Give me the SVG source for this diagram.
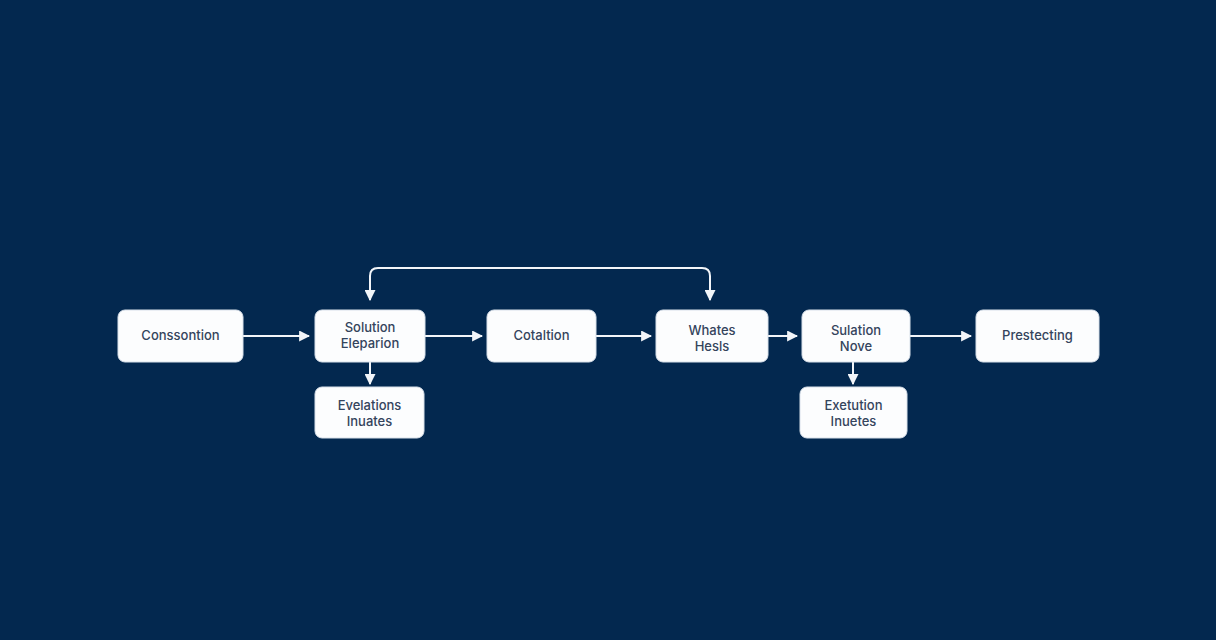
<svg xmlns="http://www.w3.org/2000/svg" width="1216" height="640" viewBox="0 0 1216 640">
<defs>
<style>
.node rect{fill:#fcfdfe;stroke:#d8e0ea;stroke-width:1}
.node text{font-family:"Inter","Liberation Sans",sans-serif;font-size:13px;fill:#34445c;text-anchor:middle;font-weight:500}
.conn path{fill:none;stroke:#f2f5f9;stroke-width:2}
</style>
<marker id="ah" viewBox="0 0 10 10" refX="9" refY="5" markerWidth="5.5" markerHeight="5.5" orient="auto-start-reverse" markerUnits="strokeWidth">
<path d="M0,0 L10,5 L0,10 z" fill="#f2f5f9"/>
</marker>
</defs>
<rect width="1216" height="640" fill="#03284f"/>
<g id="connectors" class="conn">
<path d="M243,336 H309" marker-end="url(#ah)"/>
<path d="M425,336 H482" marker-end="url(#ah)"/>
<path d="M596,336 H651" marker-end="url(#ah)"/>
<path d="M768,336 H797" marker-end="url(#ah)"/>
<path d="M910,336 H971" marker-end="url(#ah)"/>
<path d="M370,362 V384" marker-end="url(#ah)"/>
<path d="M853,362 V384" marker-end="url(#ah)"/>
<path d="M370,300 V276 Q370,268 378,268 H702 Q710,268 710,276 V300" marker-start="url(#ah)" marker-end="url(#ah)"/>
</g>
<g id="n1" class="node"><rect x="118" y="310" width="125" height="52" rx="7"/><text x="180.5" y="340">Conssontion</text></g>
<g id="n2" class="node"><rect x="315" y="310" width="110" height="52" rx="7"/><text x="370" y="332">Solution</text><text x="370" y="348">Eleparion</text></g>
<g id="n3" class="node"><rect x="315" y="387" width="109" height="51" rx="7"/><text x="369.5" y="410">Evelations</text><text x="369.5" y="426">Inuates</text></g>
<g id="n4" class="node"><rect x="487" y="310" width="109" height="52" rx="7"/><text x="541.5" y="340">Cotaltion</text></g>
<g id="n5" class="node"><rect x="656" y="310" width="112" height="52" rx="7"/><text x="712" y="335">Whates</text><text x="712" y="351">Hesls</text></g>
<g id="n6" class="node"><rect x="802" y="310" width="108" height="52" rx="7"/><text x="856" y="335">Sulation</text><text x="856" y="351">Nove</text></g>
<g id="n7" class="node"><rect x="800" y="387" width="107" height="51" rx="7"/><text x="853.5" y="410">Exetution</text><text x="853.5" y="426">Inuetes</text></g>
<g id="n8" class="node"><rect x="976" y="310" width="123" height="52" rx="7"/><text x="1037.5" y="340">Prestecting</text></g>
</svg>
